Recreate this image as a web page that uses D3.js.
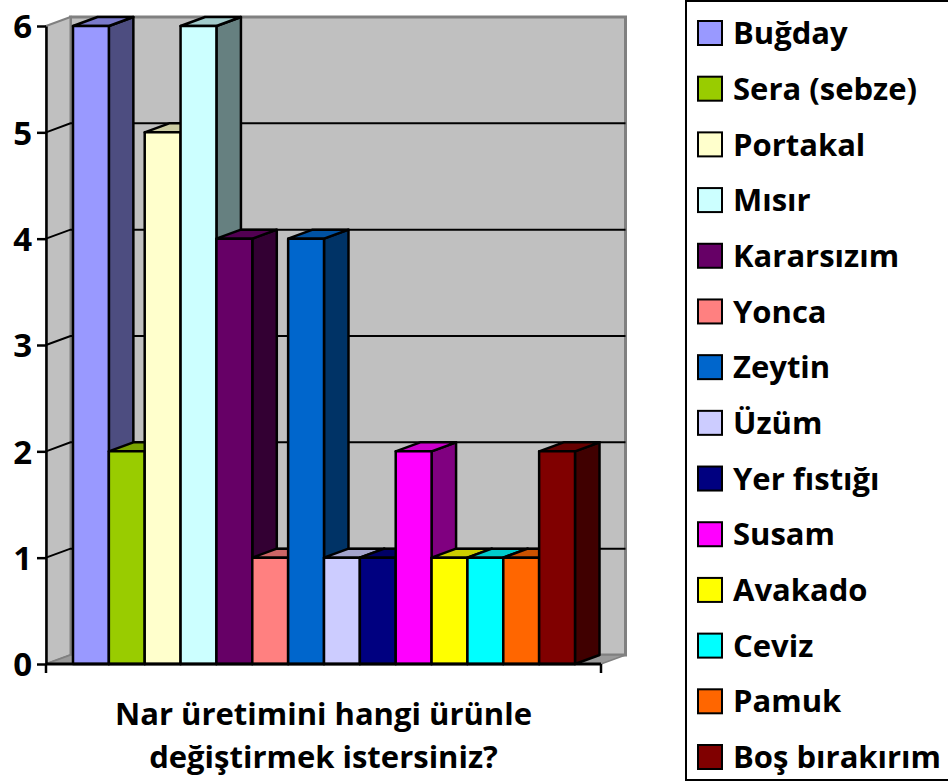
<!DOCTYPE html>
<html>
<head>
<meta charset="utf-8">
<style>
body { margin: 0; background: #fff; }
text { font-family: "Open Sans", Lato, sans-serif; font-weight: bold; fill: #000; font-variant-ligatures: none; }
</style>
</head>
<body>
<svg width="948" height="781"></svg>
<script src="https://cdn.jsdelivr.net/npm/d3@7"></script>
<script>

// data
var products = ["Buğday", "Sera (sebze)", "Portakal", "Mısır", "Kararsızım", "Yonca", "Zeytin",
                "Üzüm", "Yer fıstığı", "Susam", "Avakado", "Ceviz", "Pamuk", "Boş bırakırım"];
var counts = [6, 2, 5, 6, 4, 1, 4, 1, 1, 2, 1, 1, 1, 2];
var colors = ["#9999FF", "#99CC00", "#FFFFCC", "#CCFFFF", "#660066", "#FF8080", "#0066CC",
              "#CCCCFF", "#000080", "#FF00FF", "#FFFF00", "#00FFFF", "#FF6600", "#800000"];
var yTicks = [0, 1, 2, 3, 4, 5, 6];
var titleLines = ["Nar üretimini hangi ürünle", "değiştirmek istersiniz?"];

var svg = d3.select("svg");

var plot = {left: 46, right: 601, top: 26, bottom: 664},
    depth = {dx: 24.5, dy: -9};

var y = d3.scaleLinear().domain([0, 6]).range([plot.bottom, plot.top]);
var x = d3.scaleBand().domain(products).range([73, 575]);
var cat = d3.scaleBand().domain(["q"]).range([plot.left, plot.right]);

function shade(c, k) {
  var r = d3.rgb(c);
  return d3.rgb(r.r * k, r.g * k, r.b * k).formatHex();
}
function pts(a) { return a.map(function(p) { return p.join(","); }).join(" "); }

var walls = svg.append("g");

// back wall
walls.append("polygon")
    .attr("points", pts([[plot.left + depth.dx, y(6) + depth.dy], [plot.right + depth.dx, y(6) + depth.dy],
                         [plot.right + depth.dx, y(0) + depth.dy], [plot.left + depth.dx, y(0) + depth.dy]]))
    .attr("fill", "#c0c0c0").attr("stroke", "#808080").attr("stroke-width", 3);

// side wall
walls.append("polygon")
    .attr("points", pts([[plot.left, y(6)], [plot.left + depth.dx, y(6) + depth.dy],
                         [plot.left + depth.dx, y(0) + depth.dy], [plot.left, y(0)]]))
    .attr("fill", "#c0c0c0").attr("stroke", "#808080").attr("stroke-width", 2);

// floor
walls.append("polygon")
    .attr("points", pts([[plot.left, y(0)], [plot.right, y(0)],
                         [plot.right + depth.dx, y(0) + depth.dy], [plot.left + depth.dx, y(0) + depth.dy]]))
    .attr("fill", "#9a9a9a").attr("stroke", "#808080").attr("stroke-width", 1.5);

// gridlines
var grid = yTicks.filter(function(d) { return d > 0 && d < 6; });
walls.selectAll(".grid").data(grid).enter().append("polyline")
    .attr("points", function(d) {
      return pts([[plot.left, y(d)], [plot.left + depth.dx, y(d) + depth.dy], [plot.right + depth.dx, y(d) + depth.dy]]);
    })
    .attr("fill", "none").attr("stroke", "#000").attr("stroke-width", 2);

// bars, left to right so each one hides the side of the one before
var bars = svg.append("g").attr("stroke", "#000").attr("stroke-width", 2.5).attr("stroke-linejoin", "round");
products.forEach(function(p, i) {
  var x0 = x(p), x1 = x0 + x.bandwidth(), yt = y(counts[i]), yb = y(0);
  var g = bars.append("g");
  g.append("polygon")
      .attr("points", pts([[x1, yt], [x1 + depth.dx, yt + depth.dy], [x1 + depth.dx, yb + depth.dy], [x1, yb]]))
      .attr("fill", shade(colors[i], 0.5));
  g.append("polygon")
      .attr("points", pts([[x0, yt], [x0 + depth.dx, yt + depth.dy], [x1 + depth.dx, yt + depth.dy], [x1, yt]]))
      .attr("fill", shade(colors[i], 0.8));
  g.append("rect")
      .attr("x", x0).attr("y", yt).attr("width", x.bandwidth()).attr("height", yb - yt)
      .attr("fill", colors[i]);
});

// y axis
var yAxis = svg.append("g")
    .attr("transform", "translate(" + plot.left + ",0)")
    .call(d3.axisLeft(y).tickValues(yTicks).tickFormat(d3.format("d"))
      .tickSize(9).tickPadding(5).tickSizeOuter(0));
yAxis.select(".domain").attr("stroke", "#000").attr("stroke-width", 2.5);
yAxis.selectAll(".tick line").attr("stroke", "#000").attr("stroke-width", 2.5);
yAxis.selectAll(".tick text").style("font-size", "33px").attr("dy", "0.36em").attr("fill", "#000");

// x axis
var xAxis = svg.append("g")
    .attr("transform", "translate(0," + plot.bottom + ")");
xAxis.append("line").attr("x1", plot.left).attr("x2", plot.right)
    .attr("stroke", "#000").attr("stroke-width", 3);
xAxis.selectAll(".tk").data([cat.range()[0], cat.range()[1]]).enter().append("line")
    .attr("x1", function(d) { return d; }).attr("x2", function(d) { return d; })
    .attr("y1", 0).attr("y2", 9).attr("stroke", "#000").attr("stroke-width", 2.5);

var title = svg.append("text")
    .attr("text-anchor", "middle")
    .style("font-size", "31px");
title.selectAll("tspan").data(titleLines).enter().append("tspan")
    .attr("x", cat("q") + cat.bandwidth() / 2)
    .attr("y", function(d, i) { return 725 + i * 43; })
    .text(function(d) { return d; });

// legend
var legend = svg.append("g");
legend.append("rect")
    .attr("x", 686).attr("y", 1).attr("width", 270).attr("height", 779)
    .attr("fill", "#fff").attr("stroke", "#000").attr("stroke-width", 2);
var ly = d3.scalePoint().domain(products).range([33, 757]);
var item = legend.selectAll(".item").data(products).enter().append("g")
    .attr("transform", function(d) { return "translate(0," + ly(d) + ")"; });
item.append("rect")
    .attr("x", 698).attr("y", -12).attr("width", 24).attr("height", 24)
    .attr("fill", function(d, i) { return colors[i]; })
    .attr("stroke", "#000").attr("stroke-width", 2);
item.append("text")
    .attr("x", 733).attr("dy", "0.36em")
    .style("font-size", "31px")
    .text(function(d) { return d; });

</script>
</body>
</html>
